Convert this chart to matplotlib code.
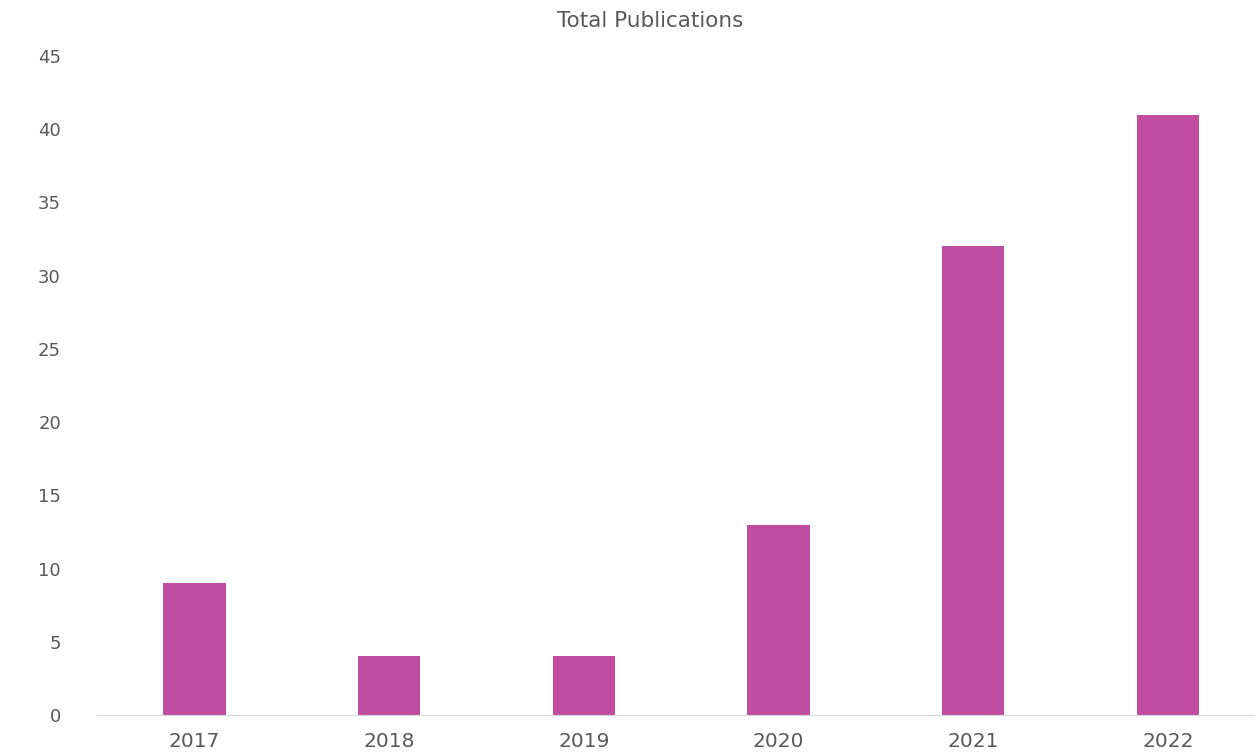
import matplotlib.pyplot as plt

# data
years = ["2017", "2018", "2019", "2020", "2021", "2022"]
pubs = [9, 4, 4, 13, 32, 41]

plt.rcParams['font.family'] = ['DejaVu Sans']

W, H = 1255, 753
fig = plt.figure(figsize=(W / 100, H / 100), dpi=100)
# axes: x from 97px to right edge, y from 715px (0) to 56px (45)
ax = fig.add_axes([97 / W, (H - 715) / H, (W - 97) / W, (715 - 56) / H])

x = range(len(years))
ax.bar(x, pubs, width=0.32, color="#C04DA0")

ax.set_xlim(-0.5, -0.5 + (W - 97) / 194.7)
ax.set_ylim(0, 45)
ax.set_yticks(range(0, 46, 5))
ax.set_xticks(list(x))
ax.set_xticklabels(years)

for s in ["top", "right", "left"]:
    ax.spines[s].set_visible(False)
ax.spines["bottom"].set_color("#d9d9d9")
ax.tick_params(axis="both", length=0, colors="#595959")
ax.tick_params(axis="y", pad=26, labelsize=13)
ax.tick_params(axis="x", pad=12, labelsize=14.5)

fig.text(650 / W, 1 - 21 / H, "Total Publications", ha="center", va="center",
         fontsize=15.5, color="#595959")

fig.savefig("out.png", dpi=100)
